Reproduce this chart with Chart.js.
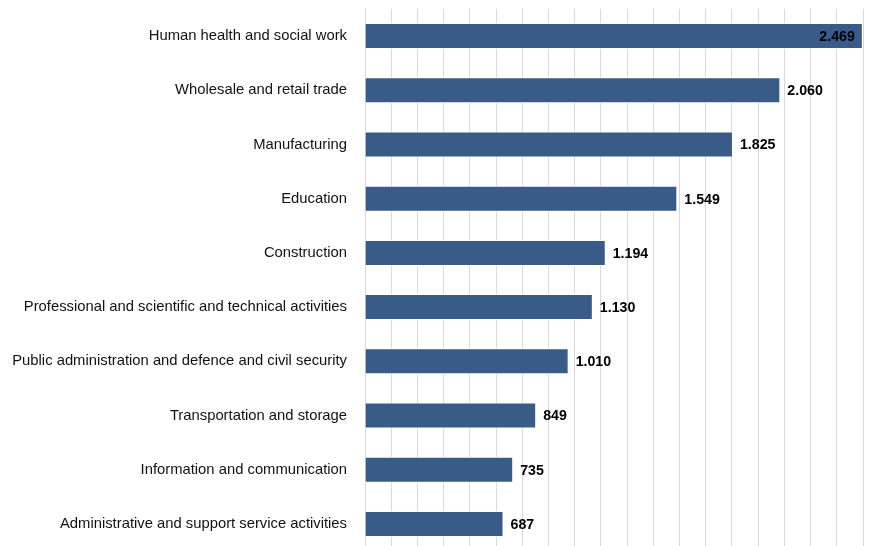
<!DOCTYPE html>
<html>
<head>
<meta charset="utf-8">
<script src="https://cdn.jsdelivr.net/npm/chart.js@4/dist/chart.umd.min.js"></script>
<style>
  html, body { margin: 0; padding: 0; background: #fff; overflow: hidden; }
  #wrap { width: 877px; height: 551px; position: relative; }
</style>
</head>
<body>
<div id="wrap"><canvas id="chart"></canvas></div>
<script>
// Employment by sector (thousands)
const sectors = [
  "Human health and social work",
  "Wholesale and retail trade",
  "Manufacturing",
  "Education",
  "Construction",
  "Professional and scientific and technical activities",
  "Public administration and defence and civil security",
  "Transportation and storage",
  "Information and communication",
  "Administrative and support service activities"
];
const employed = [2469, 2060, 1825, 1549, 1194, 1130, 1010, 849, 735, 687];
const axisMax = 2470;
const axisStep = 130;

const fmt = v => v.toLocaleString('de-DE');

// Value labels at the end of each bar; the longest bar gets its label inside
const valueLabels = {
  id: 'valueLabels',
  afterDatasetsDraw(chart) {
    const ctx = chart.ctx;
    const meta = chart.getDatasetMeta(0);
    const maxVal = Math.max(...employed);
    ctx.save();
    ctx.font = 'bold 14.2px "Liberation Sans", Arial, sans-serif';
    ctx.fillStyle = '#000';
    ctx.textBaseline = 'middle';
    meta.data.forEach((bar, i) => {
      const v = employed[i];
      if (v === maxVal) {
        ctx.textAlign = 'right';
        ctx.fillText(fmt(v), bar.x - 8, bar.y + 1);
      } else {
        ctx.textAlign = 'left';
        ctx.fillText(fmt(v), bar.x + 7, bar.y + 1);
      }
    });
    ctx.restore();
  }
};

new Chart(document.getElementById('chart'), {
  type: 'bar',
  data: {
    labels: sectors,
    datasets: [{
      data: employed,
      backgroundColor: '#395b88',
      borderColor: '#ffffff',
      borderWidth: 1,
      barPercentage: 0.48,
      categoryPercentage: 1.0
    }]
  },
  options: {
    indexAxis: 'y',
    responsive: true,
    maintainAspectRatio: false,
    animation: false,
    layout: { padding: { top: 9, right: 14, bottom: 0, left: 0 } },
    plugins: {
      legend: { display: false },
      tooltip: { enabled: false }
    },
    scales: {
      x: {
        min: 0,
        max: axisMax,
        ticks: { display: false, stepSize: axisStep },
        grid: { color: '#d9d9d9', lineWidth: 1, drawTicks: false },
        border: { display: false },
        afterFit(scale) { scale.height = 0; scale.paddingLeft = 0; scale.paddingRight = 0; }
      },
      y: {
        grid: { display: false, drawTicks: false },
        border: { display: false },
        ticks: {
          color: '#111',
          padding: 18,
          font: { family: '"Liberation Sans", Arial, sans-serif', size: 14.8 }
        },
        afterFit(scale) {
          scale.width = 365;
          scale.paddingTop = 0;
          scale.paddingBottom = 0;
        }
      }
    }
  },
  plugins: [valueLabels]
});
</script>
</body>
</html>
